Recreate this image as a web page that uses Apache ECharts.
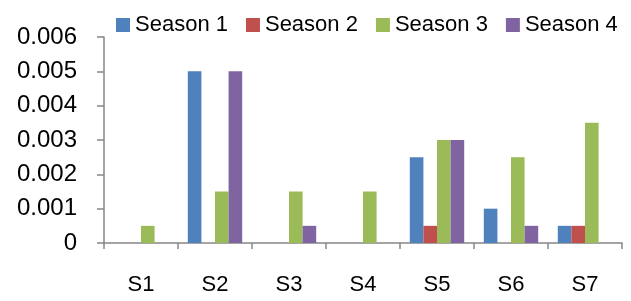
<!DOCTYPE html>
<html>
<head>
<meta charset="utf-8">
<script src="https://cdn.jsdelivr.net/npm/echarts@6/dist/echarts.min.js"></script>
<style>
    html, body { margin: 0; padding: 0; background: #fff; }
    #chart { width: 631px; height: 301px; }
</style>
</head>
<body>
<div id="chart"></div>
<script>
// values
const categories = ['S1', 'S2', 'S3', 'S4', 'S5', 'S6', 'S7'];
const seriesNames = ['Season 1', 'Season 2', 'Season 3', 'Season 4'];
const season1 = [0, 0.005, 0, 0, 0.0025, 0.001, 0.0005];
const season2 = [0, 0, 0, 0, 0.0005, 0, 0.0005];
const season3 = [0.0005, 0.0015, 0.0015, 0.0015, 0.003, 0.0025, 0.0035];
const season4 = [0, 0.005, 0.0005, 0, 0.003, 0.0005, 0];
const colors = ['#4F81BD', '#C0504D', '#9BBB59', '#8064A2'];

const font = 'Liberation Sans';
const axisGrey = '#868686';

const chart = echarts.init(document.getElementById('chart'));

chart.setOption({
    animation: false,
    color: colors,
    textStyle: {fontFamily: font},
    legend: {
        left: 111,
        top: 9,
        itemWidth: 14,
        itemHeight: 14,
        itemGap: 18,
        icon: 'rect',
        textStyle: {fontSize: 22, color: '#000', fontFamily: font}
    },
    grid: {left: 104, right: 9, top: 37, bottom: 58, containLabel: false},
    xAxis: {
        type: 'category',
        data: categories,
        axisLine: {lineStyle: {color: axisGrey, width: 1.5}},
        axisTick: {show: true, length: 6, lineStyle: {color: axisGrey, width: 1.5}},
        axisLabel: {fontSize: 22, color: '#000', margin: 31, fontFamily: font}
    },
    yAxis: {
        type: 'value',
        min: 0,
        max: 0.006,
        interval: 0.001,
        splitLine: {show: false},
        axisLine: {show: true, lineStyle: {color: axisGrey, width: 1.5}},
        axisTick: {show: true, length: 7, lineStyle: {color: axisGrey, width: 1.5}},
        axisLabel: {fontSize: 24, color: '#000', margin: 27, fontFamily: font}
    },
    series: [season1, season2, season3, season4].map((d, i) => ({
        name: seriesNames[i],
        type: 'bar',
        data: d,
        barGap: '0%',
        barCategoryGap: '26.5%'
    }))
});
</script>
</body>
</html>
